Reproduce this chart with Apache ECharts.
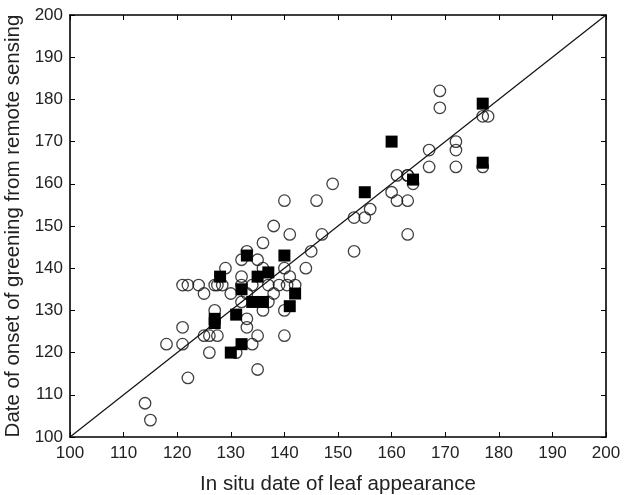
<!DOCTYPE html>
<html>
<head>
<meta charset="utf-8">
<script src="https://cdn.jsdelivr.net/npm/echarts@6/dist/echarts.min.js"></script>
<style>
  html, body { margin: 0; padding: 0; background: #fff; }
  #chart { width: 624px; height: 495px; }
</style>
</head>
<body>
<div id="chart"></div>
<script>
// In situ leaf appearance (x) vs remote-sensing greening onset (y), day of year
const circleX = [114,115,118,121,121,122,121,122,124,125,125,126,126,127,127,127.5,127.5,128.4,129,130,131,132,132,132,132,133,133,133,133,134,135,135,135,134,136,136,136,137,137,138,138,140,140,140,140,139,141,141,140.5,142,144,145,146,147,149,153,153,155,156,160,161,161,163,163,163,163,164,167,167,169,169,172,172,172,177,178,177];
const circleY = [108,104,122,126,122,114,136,136,136,134,124,124,120,130,136,124,136,136,140,134,120,138,136,132,142,128,126,144,134,122,124,116,142,136,140,130,146,132,136,134,150,156,140,130,124,136,148,138,136,136,140,144,156,148,160,152,144,152,154,158,156,162,162,162,156,148,160,168,164,182,178,170,168,164,176,176,164];
const squareX = [128,127,127,130,131,132,132,133,134,135,136,137,140,141,142,155,160,164,177,177];
const squareY = [138,128,127,120,129,122,135,143,132,138,132,139,143,131,134,158,170,161,179,165];
const lineX = [100,200];
const lineY = [100,200];
const axisMin = 100, axisMax = 200, axisStep = 10;

const pairs = (xs, ys) => xs.map((x, i) => [x, ys[i]]);

const font = 'Liberation Sans, Arial, sans-serif';
const axisBase = {
  min: axisMin, max: axisMax, interval: axisStep,
  axisLine: { show: true, lineStyle: { color: '#000', width: 1.6 } },
  axisTick: { show: true, inside: true, length: 5, lineStyle: { color: '#000', width: 1 } },
  splitLine: { show: false }
};

const chart = echarts.init(document.getElementById('chart'), null, { renderer: 'canvas' });
chart.setOption({
  backgroundColor: '#fff',
  animation: false,
  grid: { left: 70, right: 18, top: 15, bottom: 58, containLabel: false, outerBoundsMode: 'none' },
  xAxis: [
    Object.assign({}, axisBase, {
      type: 'value', position: 'bottom',
      name: 'In situ date of leaf appearance', nameLocation: 'middle', nameGap: 37,
      nameTextStyle: { fontSize: 20.5, color: '#222', fontFamily: font },
      axisLabel: { fontSize: 17, color: '#222', fontFamily: font, margin: 8 }
    }),
    Object.assign({}, axisBase, {
      type: 'value', position: 'top', axisLabel: { show: false }
    })
  ],
  yAxis: [
    Object.assign({}, axisBase, {
      type: 'value', position: 'left',
      name: 'Date of onset of greening from remote sensing', nameLocation: 'middle', nameGap: 42,
      nameTextStyle: { fontSize: 20.5, color: '#222', fontFamily: font },
      axisLabel: { fontSize: 17, color: '#222', fontFamily: font, margin: 7 }
    }),
    Object.assign({}, axisBase, {
      type: 'value', position: 'right', axisLabel: { show: false }
    })
  ],
  series: [
    {
      type: 'line', data: pairs(lineX, lineY), symbol: 'none',
      lineStyle: { color: '#111', width: 1.2 }, z: 1
    },
    {
      type: 'scatter', data: pairs(circleX, circleY), symbol: 'circle', symbolSize: 11.5,
      itemStyle: { color: 'rgba(0,0,0,0)', borderColor: '#111', borderWidth: 1.3 }, z: 2
    },
    {
      type: 'scatter', data: pairs(squareX, squareY), symbol: 'rect', symbolSize: 12,
      itemStyle: { color: '#000', opacity: 1 }, emphasis: { disabled: true }, z: 3
    }
  ]
});
</script>
</body>
</html>
